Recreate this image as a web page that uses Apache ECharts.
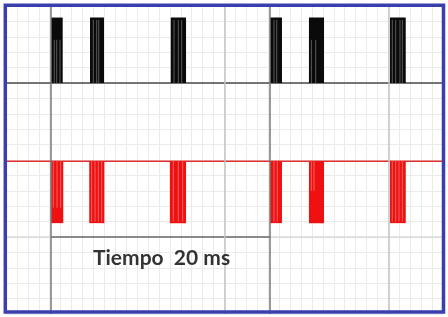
<!DOCTYPE html>
<html>
<head>
<meta charset="utf-8">
<script src="https://cdn.jsdelivr.net/npm/echarts@6/dist/echarts.min.js"></script>
<style>html,body{margin:0;padding:0;background:#fff;}#c{width:448px;height:317px;}</style>
</head>
<body>
<div id="c"></div>
<script>
// time axis in ms (1 grid division = 1 ms), vertical in divisions
const blackLow = 15, blackHigh = 19.25;
const redHigh = 9.92, redLow = 5.9;
const blackBursts = [[4.12,5.19],[7.69,8.97],[15.08,16.48],[24.16,25.26],[27.73,29.11],[35.15,36.59]];
const redBursts   = [[4.09,5.24],[7.62,9.0],[15.0,16.48],[24.16,25.26],[27.73,29.11],[35.15,36.59]];
// lighter streaks inside bursts: [time, level reached]
const blackStreaks = [[4.42,17.8],[4.64,17.8],[4.94,17.8],[7.99,19.1],[8.30,19.1],[8.49,19.1],
  [15.38,19.1],[15.77,19.1],[16.08,19.1],[24.53,19.1],[24.78,19.1],[27.95,17.8],[28.35,17.8],
  [35.36,19.1],[35.67,19.1],[36.06,19.1],[36.28,19.1]];
const redStreaks = [[4.33,6.9],[4.67,6.9],[5.0,6.9],[7.84,6.0],[8.15,6.0],[8.45,6.0],[8.76,6.0],
  [15.31,6.0],[15.77,6.0],[16.17,6.0],[24.53,6.0],[24.83,6.0],[27.95,8.0],[28.19,8.0],
  [35.36,6.0],[35.67,6.0],[35.97,6.0],[36.28,6.0]];
const bracketTimes = [4.12, 24.16];
const bracketLevel = 5;
const majorTimes = [20, 35];
const labelText = 'Tiempo  20 ms';
const labelPos = [14.24, 3.65];

const chart = echarts.init(document.getElementById('c'), null, {renderer:'canvas'});

function rectItem(color){
  return function(params, api){
    const p0 = api.coord([api.value(0), api.value(3)]);
    const p1 = api.coord([api.value(1), api.value(2)]);
    return {type:'rect', shape:{x:p0[0], y:p0[1], width:p1[0]-p0[0], height:p1[1]-p0[1]}, style:{fill:color}};
  };
}
function lineItem(color, w){
  return function(params, api){
    const p0 = api.coord([api.value(0), api.value(1)]);
    const p1 = api.coord([api.value(0), api.value(2)]);
    return {type:'line', shape:{x1:p0[0], y1:p0[1], x2:p1[0], y2:p1[1]}, style:{stroke:color, lineWidth:w}};
  };
}

const option = {
  animation:false,
  backgroundColor:'#ffffff',
  grid:{left:6, top:6, width:437, height:308, containLabel:false},
  xAxis:{type:'value', min:0, max:40, interval:1, axisLine:{show:false}, axisTick:{show:false}, axisLabel:{show:false},
    splitLine:{show:true, lineStyle:{color:'#ebebeb', width:1}}},
  yAxis:{type:'value', min:0, max:20, interval:1, axisLine:{show:false}, axisTick:{show:false}, axisLabel:{show:false},
    splitLine:{show:true, lineStyle:{color:'#ebebeb', width:1}}},
  series:[
    {type:'line', data:[[0,bracketLevel],[40,bracketLevel]], symbol:'none', silent:true,
      lineStyle:{color:'#cccccc', width:1.2}, z:1,
      markLine:{symbol:'none', silent:true, label:{show:false},
        lineStyle:{color:'#c4c4c4', width:1.5, type:'solid'},
        data: majorTimes.map(t=>({xAxis:t}))}},
    {type:'line', data:[[bracketTimes[0],bracketLevel],[bracketTimes[1],bracketLevel]], symbol:'none', silent:true,
      lineStyle:{color:'#6e6e6e', width:1.5}, z:2,
      markLine:{symbol:'none', silent:true, label:{show:false},
        lineStyle:{color:'#777777', width:1.5, type:'solid'},
        data: bracketTimes.map(t=>({xAxis:t}))}},
    {type:'line', data:[[0,blackLow],[40,blackLow]], symbol:'none', silent:true,
      lineStyle:{color:'#4a4a4a', width:1.5}, z:3},
    {type:'line', data:[[0,redHigh],[40,redHigh]], symbol:'none', silent:true,
      lineStyle:{color:'#e03030', width:1.5}, z:3},
    {type:'custom', renderItem:rectItem('#0a0a0a'), data:blackBursts.map(b=>[b[0],b[1],blackLow,blackHigh]),
      encode:{x:[0,1], y:[2,3]}, z:4, silent:true},
    {type:'custom', renderItem:lineItem('#5a5a5a',1), data:blackStreaks.map(s=>[s[0],blackLow,s[1]]),
      encode:{x:0, y:[1,2]}, z:5, silent:true},
    {type:'custom', renderItem:rectItem('#ee1111'), data:redBursts.map(b=>[b[0],b[1],redLow,redHigh]),
      encode:{x:[0,1], y:[2,3]}, z:4, silent:true},
    {type:'custom', renderItem:lineItem('#f56060',1), data:redStreaks.map(s=>[s[0],redHigh,s[1]]),
      encode:{x:0, y:[1,2]}, z:5, silent:true},
    {type:'scatter', data:[labelPos], symbolSize:0, silent:true, z:6,
      label:{show:true, position:'inside', formatter:labelText, color:'#000000',
        fontFamily:'Lato', fontWeight:'bold', fontSize:21}}
  ],
  graphic:[
    {type:'rect', z:100, silent:true, shape:{x:5.3, y:5.3, width:438.2, height:306.7},
      style:{fill:'none', stroke:'#3b3fae', lineWidth:3.5}}
  ]
};
chart.setOption(option);
</script>
</body>
</html>
